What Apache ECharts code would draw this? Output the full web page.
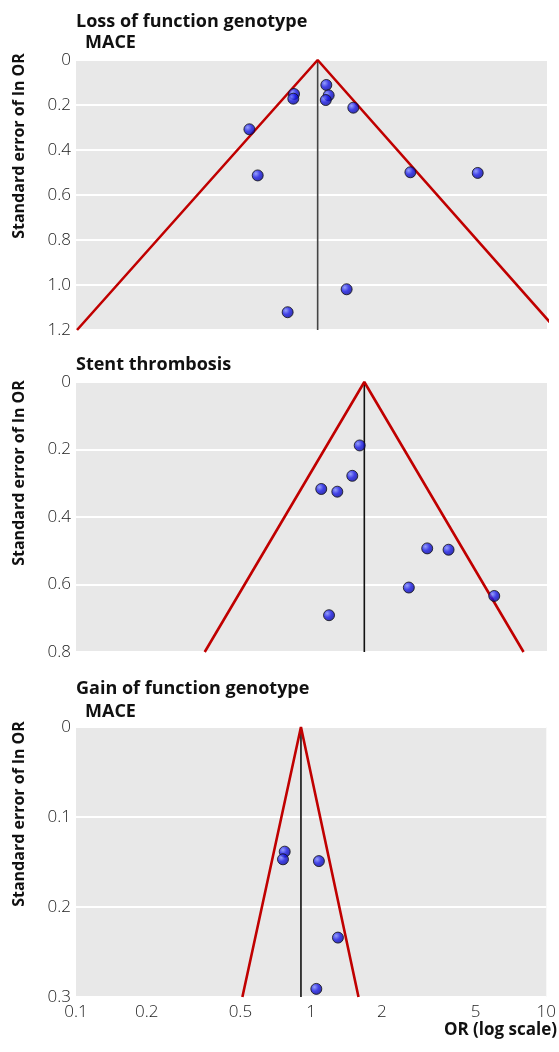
<!DOCTYPE html>
<html>
<head>
<meta charset="utf-8">
<script src="https://cdn.jsdelivr.net/npm/echarts@6/dist/echarts.min.js"></script>
<style>
html,body{margin:0;padding:0;background:#fff;}
#c{width:559px;height:1052px;}
</style>
</head>
<body>
<div id="c"></div>
<script>
// ---- Data ----
const xTickValues = [0.1, 0.2, 0.5, 1, 2, 5, 10];
const xInnerTicks = [0.2, 0.5, 1, 2, 5];

// Panel 1: Loss of function genotype, MACE
const lofMaceOR = [0.545, 0.591, 0.843, 0.837, 1.156, 1.183, 1.15, 1.505, 2.63, 5.08, 1.41, 0.792];
const lofMaceSE = [0.308, 0.513, 0.151, 0.172, 0.111, 0.157, 0.178, 0.212, 0.499, 0.502, 1.019, 1.121];
const lofMacePooled = 1.062;
const lofMaceFunnelOR = [0.101, 1.062, 11.0];
const lofMaceFunnelSE = [1.2, 0, 1.2];
const lofMaceYMax = 1.2;

// Panel 2: Stent thrombosis
const stentOR = [1.602, 1.49, 1.10, 1.287, 3.10, 3.82, 2.59, 5.97, 1.187];
const stentSE = [0.188, 0.278, 0.317, 0.325, 0.493, 0.497, 0.609, 0.634, 0.691];
const stentPooled = 1.676;
const stentFunnelOR = [0.352, 1.676, 7.95];
const stentFunnelSE = [0.8, 0, 0.8];
const stentYMax = 0.8;

// Panel 3: Gain of function genotype, MACE
const gofMaceOR = [0.772, 0.759, 1.079, 1.30, 1.052];
const gofMaceSE = [0.1385, 0.147, 0.149, 0.234, 0.291];
const gofMacePooled = 0.905;
const gofMaceFunnelOR = [0.51, 0.905, 1.59];
const gofMaceFunnelSE = [0.3, 0, 0.3];
const gofMaceYMax = 0.3;

const yIntervals = [0.2, 0.2, 0.1];

// ---- Chart ----
const zip = (a, b) => a.map((v, i) => [v, b[i]]);
const panels = [
  {or: lofMaceOR, se: lofMaceSE, pooled: lofMacePooled, fOR: lofMaceFunnelOR, fSE: lofMaceFunnelSE, ymax: lofMaceYMax, top: 60},
  {or: stentOR, se: stentSE, pooled: stentPooled, fOR: stentFunnelOR, fSE: stentFunnelSE, ymax: stentYMax, top: 382},
  {or: gofMaceOR, se: gofMaceSE, pooled: gofMacePooled, fOR: gofMaceFunnelOR, fSE: gofMaceFunnelSE, ymax: gofMaceYMax, top: 727}
];

const FONT = 'Open Sans';
const grids = [], xAxes = [], yAxes = [], series = [];
panels.forEach((p, i) => {
  grids.push({left: 76, width: 471, top: p.top, height: 270, show: true, backgroundColor: '#e8e8e8', borderWidth: 0});
  xAxes.push({
    type: 'log', logBase: 10, min: 0.1, max: 10, gridIndex: i,
    axisLine: {show: false},
    axisTick: {show: true, inside: true, length: 5, lineStyle: {color: '#ffffff', width: 2}, customValues: xInnerTicks},
    axisLabel: {show: i === 2, customValues: xTickValues, color: '#222', fontFamily: FONT, fontWeight: 300, fontSize: 17, margin: 7,
      formatter: v => String(+(+v).toPrecision(3))},
    splitLine: {show: false}
  });
  yAxes.push({
    type: 'value', inverse: true, min: 0, max: p.ymax, interval: yIntervals[i], gridIndex: i,
    axisLine: {show: false}, axisTick: {show: false},
    axisLabel: {color: '#222', fontFamily: FONT, fontWeight: 300, fontSize: 17, margin: 5,
      formatter: v => v === 0 ? '0' : v.toFixed(1)},
    splitLine: {show: true, lineStyle: {color: '#ffffff', width: 2}}
  });
  series.push({
    type: 'line', xAxisIndex: i, yAxisIndex: i, data: [[p.pooled, 0], [p.pooled, p.ymax]],
    symbol: 'none', lineStyle: {color: i === 0 ? '#444' : '#111', width: 1.6}, z: 2, silent: true
  });
  series.push({
    type: 'line', xAxisIndex: i, yAxisIndex: i, data: zip(p.fOR, p.fSE), clip: true,
    symbol: 'none', lineStyle: {color: '#c00000', width: 2.6}, z: 3, silent: true
  });
  series.push({
    type: 'scatter', xAxisIndex: i, yAxisIndex: i, data: zip(p.or, p.se),
    symbolSize: 11, z: 5,
    itemStyle: {
      color: {type: 'radial', x: 0.35, y: 0.35, r: 0.75, colorStops: [
        {offset: 0, color: '#7f8cff'}, {offset: 0.45, color: '#1818e6'}, {offset: 1, color: '#00008a'}]},
      borderColor: '#111', borderWidth: 1
    }
  });
});

const titleStyle = {fontFamily: FONT, fontWeight: 'bold', fontSize: 18, fill: '#111'};
const yNameStyle = {text: 'Standard error of ln OR', fontFamily: FONT, fontWeight: 'bold', fontSize: 16, fill: '#111', align: 'center', verticalAlign: 'middle'};
const graphic = [
  {type: 'text', left: 76, top: 13, style: Object.assign({text: 'Loss of function genotype'}, titleStyle)},
  {type: 'text', left: 85, top: 34, style: Object.assign({text: 'MACE'}, titleStyle)},
  {type: 'text', left: 76, top: 356, style: Object.assign({text: 'Stent thrombosis'}, titleStyle)},
  {type: 'text', left: 76, top: 680, style: Object.assign({text: 'Gain of function genotype'}, titleStyle)},
  {type: 'text', left: 85, top: 703, style: Object.assign({text: 'MACE'}, titleStyle)},
  {type: 'text', x: 19, y: 146, rotation: Math.PI / 2, style: Object.assign({}, yNameStyle)},
  {type: 'text', x: 19, y: 473, rotation: Math.PI / 2, style: Object.assign({}, yNameStyle)},
  {type: 'text', x: 19, y: 814, rotation: Math.PI / 2, style: Object.assign({}, yNameStyle)},
  {type: 'text', right: 2, top: 1022, style: Object.assign({text: 'OR (log scale)'}, titleStyle, {fontSize: 17})}
];

const chart = echarts.init(document.getElementById('c'), null, {renderer: 'canvas'});
chart.setOption({
  backgroundColor: '#ffffff',
  animation: false,
  grid: grids, xAxis: xAxes, yAxis: yAxes, series: series, graphic: graphic
});
</script>
</body>
</html>
